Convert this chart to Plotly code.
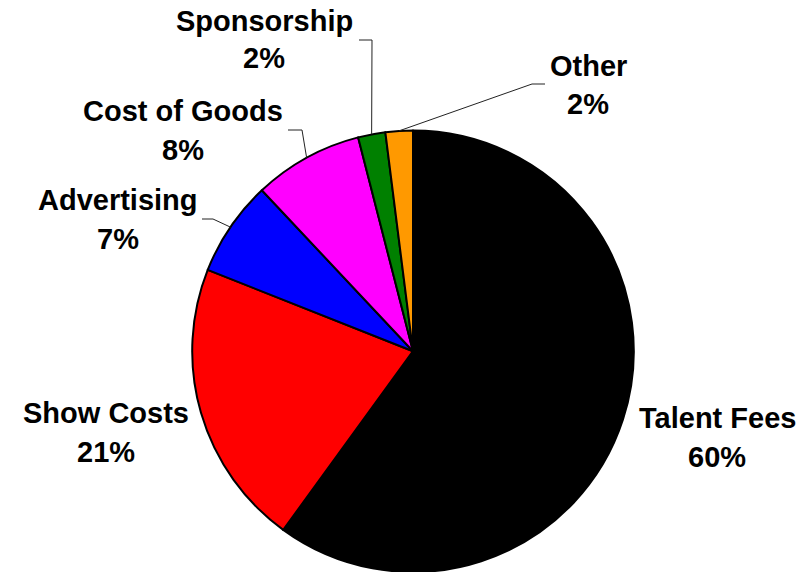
import math
import plotly.graph_objects as go

# Expense breakdown (percent of total)
categories = ["Talent Fees", "Show Costs", "Advertising", "Cost of Goods", "Sponsorship", "Other"]
shares = [60, 21, 7, 8, 2, 2]
colors = ["#000000", "#FF0000", "#0000FF", "#FF00FF", "#008000", "#FF9900"]

W, H = 812, 572

# pie placement (paper fractions)
dom_y = [0.0, 0.772]
cx_frac = 413 / W
half_w = 0.285
dom_x = [cx_frac - half_w, cx_frac + half_w]

# pie geometry in pixels, derived from the domain
radius = min((dom_x[1] - dom_x[0]) * W, (dom_y[1] - dom_y[0]) * H) / 2
cx = cx_frac * W
cy = H - (dom_y[0] + dom_y[1]) / 2 * H

# label layout: (center x px, name middle y px, pct middle y px)
label_pos = {
    "Talent Fees": (717, 418, 457),
    "Show Costs": (106, 413, 452),
    "Advertising": (118, 200, 239),
    "Cost of Goods": (183, 111, 150),
    "Sponsorship": (264, 21, 58),
    "Other": (588, 66, 104),
}
# leader elbows: (outer end, elbow) in px
leaders = {
    "Sponsorship": ((359, 40), (372, 40)),
    "Other": ((545, 84), (532, 84)),
    "Cost of Goods": ((288, 130), (302, 130)),
    "Advertising": ((202, 219), (213, 219)),
}


def px(x):
    return x / W


def py(y):
    return 1 - y / H


fig = go.Figure(
    go.Pie(
        labels=categories,
        values=shares,
        sort=False,
        direction="clockwise",
        rotation=0,
        marker=dict(colors=colors, line=dict(color="#000000", width=2)),
        textinfo="none",
        hoverinfo="label+percent",
        showlegend=False,
        domain=dict(x=dom_x, y=dom_y),
    )
)

font = dict(family="Liberation Sans, Arial, sans-serif", size=29, color="#000000", weight="bold")
total = sum(shares)
annotations = []
shapes = []
cum = 0.0
for name, val in zip(categories, shares):
    mid = (cum + val / 2) / total * 2 * math.pi
    cum += val
    lx, ny, pyy = label_pos[name]
    annotations.append(dict(x=px(lx), y=py(ny), xref="paper", yref="paper", text=name,
                            showarrow=False, xanchor="center", yanchor="middle", font=font))
    annotations.append(dict(x=px(lx), y=py(pyy), xref="paper", yref="paper",
                            text=f"{val}%", showarrow=False, xanchor="center",
                            yanchor="middle", font=font))
    if name in leaders:
        (x0, y0), (x1, y1) = leaders[name]
        ex = cx + radius * math.sin(mid)
        ey = cy - radius * math.cos(mid)
        path = (f"M {px(x0)} {py(y0)} L {px(x1)} {py(y1)} L {px(ex)} {py(ey)}")
        shapes.append(dict(type="path", path=path, xref="paper", yref="paper",
                           line=dict(color="#222222", width=1)))

fig.update_layout(
    width=W,
    height=H,
    margin=dict(l=0, r=0, t=0, b=0),
    paper_bgcolor="#FFFFFF",
    plot_bgcolor="#FFFFFF",
    annotations=annotations,
    shapes=shapes,
)

fig.write_html("out.html")
